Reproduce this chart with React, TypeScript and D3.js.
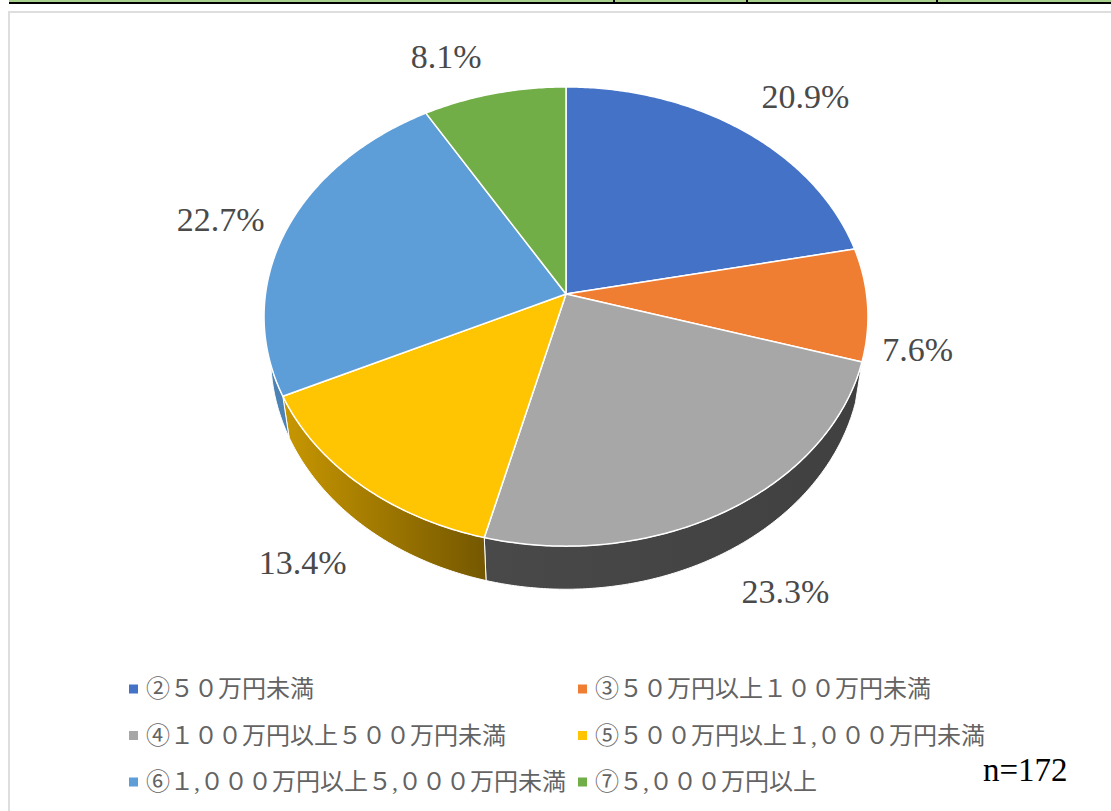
import React from "react";
import * as d3 from "d3";

// (they add up to 96, the pie is normalised on that)
const shares = [20.9, 7.6, 23.3, 13.4, 22.7, 8.1];
const sliceLabels = ["20.9%", "7.6%", "23.3%", "13.4%", "22.7%", "8.1%"];
const legendLabels = [
  "②５０万円未満",
  "③５０万円以上１００万円未満",
  "④１００万円以上５００万円未満",
  "⑤５００万円以上１,０００万円未満",
  "⑥１,０００万円以上５,０００万円未満",
  "⑦５,０００万円以上",
];
const colors = ["#4472c7", "#f07e32", "#a7a7a7", "#ffc503", "#5e9ed8", "#72ae48"];
const wallColors = [
  ["#29447a", "#29447a"],
  ["#8f4b1d", "#8f4b1d"],
  ["#494949", "#404040"],
  ["#c89700", "#755800"],
  ["#4c82b4", "#3c6d9a"],
  ["#44682b", "#44682b"],
];
// label offset from the rim point at each slice's middle
const labelOffsets = [
  [63, -34],
  [50, 45],
  [58, 81],
  [-57, 78],
  [-66, -10],
  [-48, -37],
];

const width = 1111;
const height = 811;
const cx = 566;
const cy = 294;
const k = 0.0981; // perspective tilt
const a = 300.5;
const b = 227.4;

// circle angle -> tilted pie top
const topRim = (t: number): [number, number] => {
  const u = Math.sin(t);
  const v = -Math.cos(t);
  const w = 1 - k * v;
  return [cx + (a * u) / w, cy + (b * v) / w];
};
// same angle on the lower edge of the wall
const bottomRim = (t: number): [number, number] => {
  const [x, y] = topRim(t);
  return [cx + 0.978 * (x - cx), y + 41 + 0.014 * (y - 396)];
};
const sample = (t0: number, t1: number) => {
  const n = Math.max(2, Math.ceil(Math.abs(t1 - t0) / 0.01));
  return d3.range(n + 1).map((i) => t0 + ((t1 - t0) * i) / n);
};

export default function App() {
  const arcs = d3.pie<number>().sort(null)(shares);
  const path = d3.line();
  const deg = Math.PI / 180;

  const legendX = d3.scalePoint<number>().domain([0, 1]).range([129, 578]);
  const legendY = d3.scalePoint<number>().domain([0, 1, 2]).range([689, 782]);

  return (
    <svg
      width={width}
      height={height}
      lang="ja"
      style={{ position: "absolute", left: 0, top: 0, background: "#fff" }}
    >
      <defs>
        {arcs.map((d, i) => {
          const xs = [topRim(d.startAngle)[0], topRim(d.endAngle)[0]];
          return (
            <linearGradient
              key={i}
              id={`wall${i}`}
              gradientUnits="userSpaceOnUse"
              x1={Math.min(...xs)}
              x2={Math.max(...xs)}
              y1={0}
              y2={0}
            >
              <stop offset="0" stopColor={wallColors[i][0]} />
              <stop offset="1" stopColor={wallColors[i][1]} />
            </linearGradient>
          );
        })}
      </defs>

      {/* bit of the table above the chart */}
      <rect x={9} y={0} width={1102} height={2} fill="#a9d18e" />
      <rect x={9} y={2} width={1102} height={2} fill="#000" />
      {[613, 746, 936].map((x) => (
        <rect key={x} x={x} y={0} width={2} height={3} fill="#000" />
      ))}

      {/* chart frame */}
      <path d="M9,811V12H1111" fill="none" stroke="#dedede" strokeWidth={2} />

      {/* walls */}
      {arcs
        .filter((d) => {
          const mid = (d.startAngle + d.endAngle) / 2;
          return mid > 100 * deg && mid < 300 * deg;
        })
        .map((d) => {
          const upper = sample(d.startAngle, d.endAngle).map(topRim);
          const lower = sample(d.endAngle, d.startAngle).map(bottomRim);
          return (
            <path
              key={d.index}
              d={path([...upper, ...lower]) + "Z"}
              fill={`url(#wall${d.index})`}
              stroke="#fff"
              strokeWidth={1}
              strokeLinejoin="round"
            />
          );
        })}

      {/* top faces */}
      {arcs.map((d) => (
        <path
          key={d.index}
          d={path([[cx, cy], ...sample(d.startAngle, d.endAngle).map(topRim)]) + "Z"}
          fill={colors[d.index]}
          stroke="#fff"
          strokeWidth={1.5}
          strokeLinejoin="round"
        />
      ))}

      {/* data labels */}
      {arcs.map((d) => {
        const [x, y] = topRim((d.startAngle + d.endAngle) / 2);
        const [dx, dy] = labelOffsets[d.index];
        return (
          <text
            key={d.index}
            x={x + dx}
            y={y + dy}
            textAnchor="middle"
            dominantBaseline="central"
            fontFamily="'Liberation Serif', serif"
            fontSize={34}
            fill="#4a4a4a"
          >
            {sliceLabels[d.index]}
          </text>
        );
      })}

      {/* legend */}
      {legendLabels.map((label, i) => {
        const x = legendX(i % 2)!;
        const y = legendY(Math.floor(i / 2))!;
        return (
          <g key={label}>
            <rect x={x} y={y - 4.5} width={9} height={9} fill={colors[i]} />
            <text
              x={x + 17}
              y={y + 8}
              fontFamily="'Liberation Serif', 'Noto Sans CJK JP', sans-serif"
              fontSize={24}
              fill="#636363"
            >
              {label}
            </text>
          </g>
        );
      })}

      <text
        x={983}
        y={781}
        fontFamily="'Liberation Serif', serif"
        fontSize={33}
        fill="#000"
      >
        n=172
      </text>
    </svg>
  );
}
